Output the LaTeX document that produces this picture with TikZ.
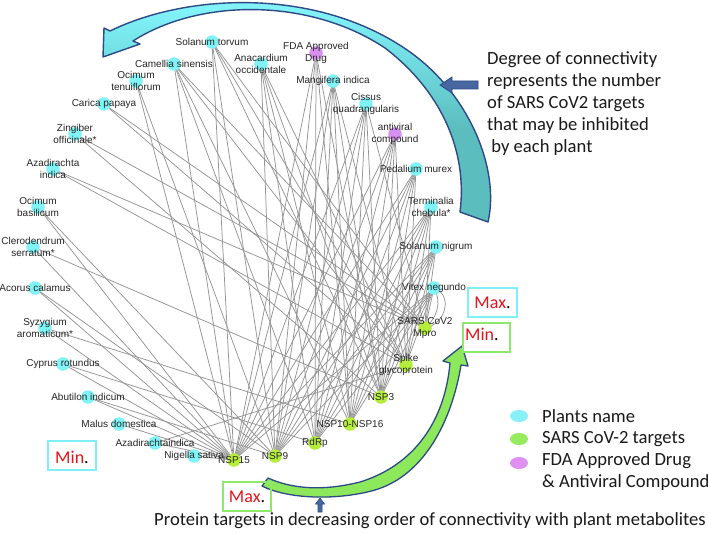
\documentclass[tikz,border=0pt]{standalone}
\usepackage{fontspec}
\setmainfont{Carlito}
\newfontfamily\lblfont{Liberation Sans}
\usetikzlibrary{backgrounds,shapes.geometric}
\definecolor{cplant}{HTML}{7FF3F5}
\definecolor{ctarget}{HTML}{B5EE3A}
\definecolor{cdrug}{HTML}{D890F0}
\definecolor{clbl}{HTML}{262626}
\definecolor{cedge}{HTML}{959595}
\definecolor{cblue}{HTML}{2E4A86}
\definecolor{cblueFill}{HTML}{4767A0}
\definecolor{acyan}{HTML}{80F2F8}
\definecolor{ateal}{HTML}{5CBDBF}
\definecolor{agreen}{HTML}{8EE85C}
\definecolor{boxcyan}{HTML}{80F0F8}
\definecolor{boxgreen}{HTML}{8EE86A}
\definecolor{cred}{HTML}{E5141B}
\definecolor{lgcyan}{HTML}{88F0F8}
\definecolor{lggreen}{HTML}{96EB5F}
\definecolor{lgpink}{HTML}{E090F0}
\definecolor{ctext}{HTML}{1A1A1A}
\pgfdeclareverticalshading{cyanteal}{100bp}{color(0bp)=(ateal); color(45bp)=(ateal); color(70bp)=(acyan); color(100bp)=(acyan)}
\begin{document}
\begin{tikzpicture}[x=1pt,y=-1pt,
  nd/.style={circle,minimum size=13.5pt,inner sep=0pt},
  plant/.style={nd,fill=cplant},
  target/.style={nd,fill=ctarget},
  drug/.style={nd,fill=cdrug},
  lbl/.style={font=\lblfont\fontsize{10}{12.5}\selectfont,text=clbl,align=center,inner sep=0pt},
  edge/.style={draw=cedge,line width=0.75pt},
  note/.style={font=\fontsize{18.6}{22}\selectfont,text=ctext,inner sep=0pt,anchor=west,align=left},
  mm/.style={font=\fontsize{18}{18}\selectfont,inner sep=0pt},
  legdot/.style={ellipse,minimum width=18pt,minimum height=12pt,inner sep=0pt},
  boxc/.style={draw=boxcyan,line width=2pt},
  boxg/.style={draw=boxgreen,line width=2pt},
  ]
\useasboundingbox (0,0) rectangle (708,532);

% ---- network nodes ----
\node[plant] (torvum) at (212,42) {};
\node[plant] (camellia) at (174,64) {};
\node[plant] (ocimt) at (136,81) {};
\node[plant] (carica) at (104,104) {};
\node[plant] (zing) at (75,134) {};
\node[plant] (azind) at (53,169) {};
\node[plant] (ocimb) at (38,207) {};
\node[plant] (cler) at (33,247) {};
\node[plant] (acorus) at (35,288) {};
\node[plant] (syz) at (45,328) {};
\node[plant] (cyprus) at (63,364) {};
\node[plant] (abut) at (88,397) {};
\node[plant] (malus) at (119,424) {};
\node[plant] (azindb) at (155,443) {};
\node[plant] (nigella) at (194,456) {};
\node[target] (nspxv) at (234,460) {};
\node[target] (nspix) at (275,456) {};
\node[target] (rdrp) at (315,443) {};
\node[target] (nspx) at (350,424) {};
\node[target] (nspiii) at (381,397) {};
\node[target] (spike) at (406,365) {};
\node[target] (mpro) at (425,328) {};
\node[plant] (vitex) at (434,288) {};
\node[plant] (snigrum) at (436,247) {};
\node[plant] (term) at (431,207) {};
\node[plant] (pedal) at (416,169) {};
\node[drug] (antiv) at (395,134) {};
\node[plant] (cissus) at (366,104) {};
\node[plant] (mang) at (333,81) {};
\node[drug] (fda) at (316,53) {};
\node[plant] (anac) at (261,64) {};

% ---- edges ----
\begin{scope}[on background layer]
\fill[white] (0,0) rectangle (708,532);
\foreach \a/\b in {
 vitex/nspxv, vitex/nspix, vitex/rdrp, vitex/nspx, vitex/nspiii, vitex/spike, vitex/mpro,
 snigrum/nspxv, snigrum/nspix, snigrum/rdrp, snigrum/nspx, snigrum/nspiii, snigrum/spike, snigrum/mpro,
 term/nspxv, term/nspix, term/rdrp, term/nspx, term/nspiii, term/spike, term/mpro,
 pedal/nspxv, pedal/nspix, pedal/rdrp, pedal/nspx, pedal/nspiii, pedal/spike,
 antiv/nspxv, antiv/nspix, antiv/rdrp, antiv/nspx, antiv/nspiii, antiv/spike,
 cissus/nspxv, cissus/nspix, cissus/rdrp, cissus/nspx, cissus/nspiii, cissus/mpro,
 mang/nspxv, mang/nspix, mang/rdrp, mang/nspx, mang/nspiii, mang/spike,
 fda/nspxv, fda/nspix, fda/rdrp, fda/nspx, fda/nspiii,
 anac/nspix, anac/rdrp, anac/nspx, anac/nspiii, anac/spike,
 torvum/nspxv, torvum/nspix, torvum/spike, torvum/mpro, torvum/nspiii,
 camellia/nspxv, camellia/rdrp, camellia/nspx, camellia/spike, camellia/mpro,
 ocimt/nspxv, ocimt/nspix,
 carica/mpro, carica/spike,
 zing/nspiii, zing/mpro,
 azind/mpro, azind/spike,
 ocimb/nspxv, ocimb/nspix,
 cler/nspxv, cler/nspiii,
 acorus/nspxv, acorus/nspix,
 syz/nspxv, syz/nspx,
 cyprus/nspxv, cyprus/rdrp,
 abut/nspxv, abut/nspix,
 malus/nspxv,
 azindb/nspxv, azindb/spike,
 nigella/nspxv}
 \draw[edge] (\a.center) -- (\b.center);
\draw[edge] (vitex.center) to[out=-20,in=10,looseness=1.3] (mpro.center);
\draw[edge] (vitex.center) to[out=-60,in=40,looseness=1.0] (mpro.center);
\end{scope}

% ---- labels ----
\node[lbl] (l-torvum) at (torvum) {Solanum torvum};
\node[lbl] (l-camellia) at (camellia) {Camellia sinensis};
\node[lbl] (l-ocimt) at (ocimt) {Ocimum\\tenuiflorum};
\node[lbl] (l-carica) at (carica) {Carica papaya};
\node[lbl] (l-zing) at (zing) {Zingiber\\officinale*};
\node[lbl] (l-azind) at (azind) {Azadirachta\\indica};
\node[lbl] (l-ocimb) at (ocimb) {Ocimum\\basilicum};
\node[lbl] (l-cler) at (cler) {Clerodendrum\\serratum*};
\node[lbl] (l-acorus) at (acorus) {Acorus calamus};
\node[lbl] (l-syz) at (syz) {Syzygium\\aromaticum*};
\node[lbl] (l-cyprus) at (cyprus) {Cyprus rotundus};
\node[lbl] (l-abut) at (abut) {Abutilon indicum};
\node[lbl] (l-malus) at (malus) {Malus domestica};
\node[lbl] (l-azindb) at (azindb) {Azadirachtaindica};
\node[lbl] (l-nigella) at (nigella) {Nigella sativa};
\node[lbl] (l-nspxv) at (nspxv) {NSP15};
\node[lbl] (l-nspix) at (nspix) {NSP9};
\node[lbl] (l-rdrp) at (rdrp) {RdRp};
\node[lbl] (l-nspx) at (nspx) {NSP10-NSP16};
\node[lbl] (l-nspiii) at (nspiii) {NSP3};
\node[lbl] (l-spike) at (spike) {Spike\\glycoprotein};
\node[lbl] (l-mpro) at (mpro) {SARS CoV2\\Mpro};
\node[lbl] (l-vitex) at (vitex) {Vitex negundo};
\node[lbl] (l-snigrum) at (snigrum) {Solanum nigrum};
\node[lbl] (l-term) at (term) {Terminalia\\chebula*};
\node[lbl] (l-pedal) at (pedal) {Pedalium murex};
\node[lbl] (l-antiv) at (antiv) {antiviral\\compound};
\node[lbl] (l-cissus) at (cissus) {Cissus\\quadrangularis};
\node[lbl] (l-mang) at (mang) {Mangifera indica};
\node[lbl] (l-fda) at (fda) {FDA Approved\\Drug};
\node[lbl] (l-anac) at (anac) {Anacardium\\occidentale};

% ---- big cyan curved arrow ----
\path[draw=cblue,line width=1.4pt,shading=cyanteal,line join=round]
 (110,31) .. controls (190,-8) and (320,-12) .. (410,52)
 .. controls (470,95) and (500,170) .. (488,222)
 -- (460,212)
 .. controls (468,150) and (440,90) .. (385,48)
 .. controls (310,-2) and (200,-2) .. (133,41)
 -- (140,44) -- (103,57) -- (104,28) -- cycle;

% ---- small left arrow ----
\path[draw=cblue,fill=cblueFill,line width=0.8pt]
 (440,85) -- (452,77) -- (452,81) -- (478,81) -- (478,89) -- (452,89) -- (452,93) -- cycle;

% ---- green curved arrow ----
\path[draw=cblue,fill=agreen,line width=1.3pt,line join=round]
 (262,486) .. controls (290,500) and (340,500) .. (375,490)
 .. controls (425,475) and (452,420) .. (461,365)
 -- (468,366) -- (462,346) -- (443,361) -- (450,363)
 .. controls (445,420) and (415,465) .. (360,482)
 .. controls (320,492) and (290,488) .. (268,478) -- cycle;

% ---- small up arrow ----
\path[draw=cblue,fill=cblueFill,line width=0.6pt]
 (320,498) -- (324.5,504) -- (322,504) -- (322,512) -- (318,512) -- (318,504) -- (315.5,504) -- cycle;

% ---- Max / Min boxes ----
\draw[boxc] (468,288) rectangle (517,317);
\node[mm] (maxa) at (492.5,303) {\textcolor{cred}{Max}.};
\draw[boxg] (463,323) rectangle (510,352);
\node[mm,anchor=west] (mina) at (465,334) {\textcolor{cred}{Min}.};
\draw[boxc] (48,441) rectangle (96,470);
\node[mm] (minb) at (72,457) {\textcolor{cred}{Min}.};
\draw[boxg] (223,482) rectangle (271,511);
\node[mm] (maxb) at (247,497) {\textcolor{cred}{Max}.};

% ---- notes ----
\node[note] (deg) at (487,104) {Degree of connectivity\\represents the number\\of SARS CoV2 targets\\that may be inhibited\\\ by each plant};
\node[note] (prot) at (154,521) {Protein targets in decreasing order of connectivity with plant metabolites};

% ---- legend ----
\node[legdot,fill=lgcyan] (lg1) at (519,416) {};
\node[legdot,fill=lggreen] (lg2) at (519,439) {};
\node[legdot,fill=lgpink] (lg3) at (519,463) {};
\node[note] (lt1) at (542,416) {Plants name};
\node[note] (lt2) at (542,439) {SARS CoV-2 targets};
\node[note,anchor=north west] (lt3) at (542,452) {FDA Approved Drug\\\& Antiviral Compound};
\end{tikzpicture}
\end{document}
